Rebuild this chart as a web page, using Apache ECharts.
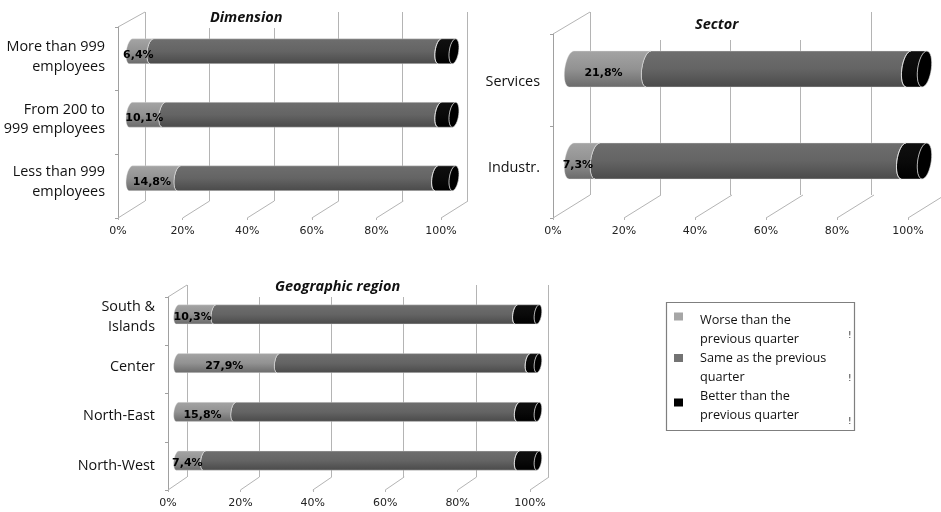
<!DOCTYPE html>
<html>
<head>
<meta charset="utf-8">
<style>html,body{margin:0;padding:0;background:#fff}#chart{width:941px;height:512px}</style>
<script src="https://cdn.jsdelivr.net/npm/echarts@6/dist/echarts.min.js"></script>
</head>
<body>
<div id="chart"></div>
<script>
// Share of answers per group, listed top row first.
const dimensionCategories = ['More than 999\nemployees', 'From 200 to\n999 employees', 'Less than 999\nemployees'];
const dimensionWorse = [6.4, 10.1, 14.8];
const dimensionSame = [89.2, 85.5, 79.8];
const dimensionBetter = [4.4, 4.4, 5.4];

const sectorCategories = ['Services', 'Industr.'];
const sectorWorse = [21.8, 7.3];
const sectorSame = [73.7, 86.8];
const sectorBetter = [4.5, 5.9];

const regionCategories = ['South &\nIslands', 'Center', 'North-East', 'North-West'];
const regionWorse = [10.3, 27.9, 15.8, 7.4];
const regionSame = [83.7, 69.6, 78.7, 87.1];
const regionBetter = [6.0, 2.5, 5.5, 5.5];

const percentTicks = [0, 20, 40, 60, 80, 100];
const answerNames = ['Worse than the\nprevious quarter', 'Same as the previous\nquarter', 'Better than the\nprevious quarter'];

// Panel layout: front plane holds the axes, back plane the gridlines, middle plane the cylinders,
// and a separate label plane sets where the category names sit.
const panels = [
  { title: 'Dimension', categories: dimensionCategories, worse: dimensionWorse, same: dimensionSame, better: dimensionBetter,
    front: { left: 118, top: 27, width: 323, height: 191 },
    back: { left: 145, top: 12, width: 322, height: 189 },
    middle: { left: 131, top: 19.5, width: 323, height: 190.5 },
    names: { left: 118, top: 25.75, width: 323, height: 187.5 },
    titleBox: { left: 203, top: 8, padding: [2, 6, 3, 7] }, labelShift: [-3, 3.5] },
  { title: 'Sector', categories: sectorCategories, worse: sectorWorse, same: sectorSame, better: sectorBetter,
    front: { left: 553, top: 34, width: 355, height: 184 },
    back: { left: 590, top: 12, width: 353, height: 183 },
    middle: { left: 571.5, top: 23, width: 353, height: 184 },
    names: { left: 553, top: 38.7, width: 355, height: 172 },
    titleBox: { left: 655, top: 10, padding: [7, 68, 8, 40] }, labelShift: [-6.5, 4.5] },
  { title: 'Geographic region', categories: regionCategories, worse: regionWorse, same: regionSame, better: regionBetter,
    front: { left: 168, top: 297, width: 362, height: 193 },
    back: { left: 187, top: 285, width: 361, height: 192 },
    middle: { left: 177.5, top: 290, width: 360.5, height: 195 },
    names: { left: 168, top: 292.25, width: 362, height: 198 },
    titleBox: { left: 257, top: 278, padding: [1, 4, 3, 18] }, labelShift: [-3.5, 3] }
];

const legendColors = ['#a6a6a6', '#737373', '#000000'];
const bodyGradients = [
  ['#a4a4a4', '#929292', '#6a6a6a'],
  ['#6e6e6e', '#646464', '#4a4a4a'],
  ['#101010', '#0a0a0a', '#000000']
];
const gridColor = '#b4b4b4';
const bandRatio = 0.39;

// Legend swatch drawn inside a taller icon box; the two end points keep the box size fixed.
function swatchIcon(y) {
  return 'path://M0 0L0 0Z M0 29L0 29Z M0 ' + y + 'H9V' + (y + 8) + 'H0Z';
}

function gradient(stops) {
  return new echarts.graphic.LinearGradient(0, 0, 0, 1, [
    { offset: 0, color: stops[0] }, { offset: 0.5, color: stops[1] }, { offset: 1, color: stops[2] }
  ]);
}

// Half an ellipse leaning with the view angle, running from the top edge to the bottom edge.
function arc(cx, cy, rx, ry, lean, side) {
  const pts = [];
  for (let i = 0; i <= 16; i++) {
    const t = Math.PI * i / 16;
    pts.push([cx + side * rx * Math.sin(t) + lean * Math.cos(t), cy - ry * Math.cos(t)]);
  }
  return pts;
}

function cylinderRender(answerIndex, labelShift) {
  return function (params, api) {
    const from = api.value(0), to = api.value(1), row = api.value(2);
    const a = api.coord([from, row]), b = api.coord([to, row]);
    const h = api.size([0, 1])[1] * bandRatio;
    const ry = h / 2, rx = h * 0.19, lean = h * 0.065;
    const leftEdge = arc(a[0], a[1], rx, ry, lean, -1);
    const rightEdge = arc(b[0], b[1], rx, ry, lean, -1);
    const outline = rightEdge.concat(leftEdge.slice().reverse());
    const children = [{
      type: 'polygon', shape: { points: outline },
      style: { fill: gradient(bodyGradients[answerIndex]), stroke: 'rgba(225,225,225,0.55)', lineWidth: 0.7 }
    }];
    if (answerIndex > 0) {
      children.push({ type: 'polyline', shape: { points: leftEdge }, style: { fill: null, stroke: 'rgba(235,235,235,0.85)', lineWidth: 1 } });
    }
    if (answerIndex === 2) {
      children.push({
        type: 'polygon',
        shape: { points: rightEdge.concat(arc(b[0], b[1], rx, ry, lean, 1).reverse()) },
        style: { fill: '#000', stroke: 'rgba(225,225,225,0.8)', lineWidth: 0.8 }
      });
    }
    if (answerIndex === 0) {
      children.push({
        type: 'text',
        style: {
          text: to.toFixed(1).replace('.', ',') + '%',
          x: (a[0] + b[0]) / 2 + labelShift[0], y: a[1] + labelShift[1],
          align: 'center', verticalAlign: 'middle',
          fill: '#000', font: 'bold 11px "DejaVu Sans"'
        }
      });
    }
    return { type: 'group', children: children };
  };
}

// Receding floor lines and the upper-left edge of the box.
function depthRender(panel) {
  const dx = panel.back.left - panel.front.left;
  return function (params, api) {
    const v = api.value(0);
    const x = panel.front.left + v / 100 * panel.front.width;
    const bottom = panel.front.top + panel.front.height;
    const backBottom = panel.back.top + panel.back.height;
    const children = [{ type: 'line', shape: { x1: x, y1: bottom, x2: x + dx, y2: backBottom }, style: { stroke: gridColor, lineWidth: 1 } }];
    if (v === 0) {
      children.push({ type: 'line', shape: { x1: x, y1: panel.front.top, x2: x + dx, y2: panel.back.top }, style: { stroke: gridColor, lineWidth: 1 } });
    }
    return { type: 'group', children: children };
  };
}

const option = {
  animation: false, backgroundColor: '#fff',
  title: [], grid: [], xAxis: [], yAxis: [], series: [],
  legend: {
    data: [
      { name: answerNames[0], icon: swatchIcon(7) },
      { name: answerNames[1], icon: swatchIcon(10.5) },
      { name: answerNames[2], icon: swatchIcon(17) }
    ],
    orient: 'vertical', left: 674, top: 291.5,
    itemWidth: 9, itemHeight: 29, itemGap: -19,
    padding: 0, selectedMode: false,
    formatter: function (name) { return '\n' + name; },
    textStyle: { fontFamily: 'Open Sans', fontSize: 12.7, color: '#111', lineHeight: 19, padding: [0, 0, 0, 12] }
  },
  graphic: [
    { type: 'rect', left: 664, top: 300, shape: { width: 188, height: 128 }, style: { fill: 'none', stroke: '#7f7f7f', lineWidth: 1.2 } },
    { type: 'text', left: 848, top: 331, style: { text: '!', font: '9px "DejaVu Sans"', fill: '#333' } },
    { type: 'text', left: 848, top: 374, style: { text: '!', font: '9px "DejaVu Sans"', fill: '#333' } },
    { type: 'text', left: 848, top: 417, style: { text: '!', font: '9px "DejaVu Sans"', fill: '#333' } }
  ]
};

panels.forEach(function (panel) {
  option.title.push({
    text: panel.title, left: panel.titleBox.left, top: panel.titleBox.top,
    padding: panel.titleBox.padding, backgroundColor: '#fff',
    textStyle: { fontFamily: 'Open Sans', fontSize: 14.5, fontWeight: 'bold', fontStyle: 'italic', color: '#111' }
  });

  const base = option.grid.length;
  option.grid.push(panel.back, panel.middle, panel.front, panel.names);

  // Back plane: gridlines only.
  option.xAxis.push({ gridIndex: base, type: 'value', min: 0, max: 100, interval: 20, axisLine: { show: false }, axisTick: { show: false }, axisLabel: { show: false }, splitLine: { show: true, lineStyle: { color: gridColor, width: 1 } } });
  option.yAxis.push({ gridIndex: base, type: 'category', inverse: true, data: panel.categories, axisLine: { show: false }, axisTick: { show: false }, axisLabel: { show: false } });

  // Middle plane: positions the cylinders.
  option.xAxis.push({ gridIndex: base + 1, type: 'value', min: 0, max: 100, interval: 20, show: false, splitLine: { show: false } });
  option.yAxis.push({ gridIndex: base + 1, type: 'category', inverse: true, data: panel.categories, show: false });

  // Front plane: visible axes and tick labels.
  option.xAxis.push({
    gridIndex: base + 2, type: 'value', min: 0, max: 100, interval: 20,
    axisLine: { show: false }, splitLine: { show: false },
    axisTick: { show: true, length: 2, lineStyle: { color: gridColor } },
    axisLabel: { margin: 8, formatter: '{value}%', fontFamily: 'DejaVu Sans', fontSize: 11, color: '#222' }
  });
  option.yAxis.push({
    gridIndex: base + 2, type: 'category', inverse: true, data: panel.categories,
    axisLine: { show: true, lineStyle: { color: '#a0a0a0', width: 1 } },
    axisTick: { show: true, length: 3, lineStyle: { color: '#a0a0a0' } },
    axisLabel: { show: false }
  });

  // Label plane: category names only.
  option.xAxis.push({ gridIndex: base + 3, type: 'value', min: 0, max: 100, interval: 20, show: false, splitLine: { show: false } });
  option.yAxis.push({
    gridIndex: base + 3, type: 'category', inverse: true, data: panel.categories,
    axisLine: { show: false }, axisTick: { show: false },
    axisLabel: { margin: 13, fontFamily: 'Open Sans', fontSize: 14.4, lineHeight: 19.5, color: '#111', align: 'right' }
  });

  option.series.push({
    type: 'custom', name: 'depth', xAxisIndex: base + 2, yAxisIndex: base + 2, z: 1, silent: true,
    data: percentTicks.map(function (v) { return [v, 0]; }),
    encode: { x: 0, y: 1 }, renderItem: depthRender(panel), clip: false
  });

  const rows = panel.categories.map(function (_, i) { return i; });
  const spans = [panel.worse, panel.same, panel.better];
  const running = rows.map(function () { return 0; });
  spans.forEach(function (values, answerIndex) {
    const data = rows.map(function (i) {
      const start = running[i];
      running[i] = start + values[i];
      return [start, running[i], i];
    });
    option.series.push({
      type: 'custom', name: answerNames[answerIndex],
      xAxisIndex: base + 1, yAxisIndex: base + 1,
      z: answerIndex === 0 ? 4 : 3,
      itemStyle: { color: legendColors[answerIndex] },
      data: data, encode: { x: [0, 1], y: 2 },
      renderItem: cylinderRender(answerIndex, panel.labelShift), clip: false
    });
  });
});

echarts.init(document.getElementById('chart'), null, { renderer: 'canvas' }).setOption(option);
</script>
</body>
</html>
